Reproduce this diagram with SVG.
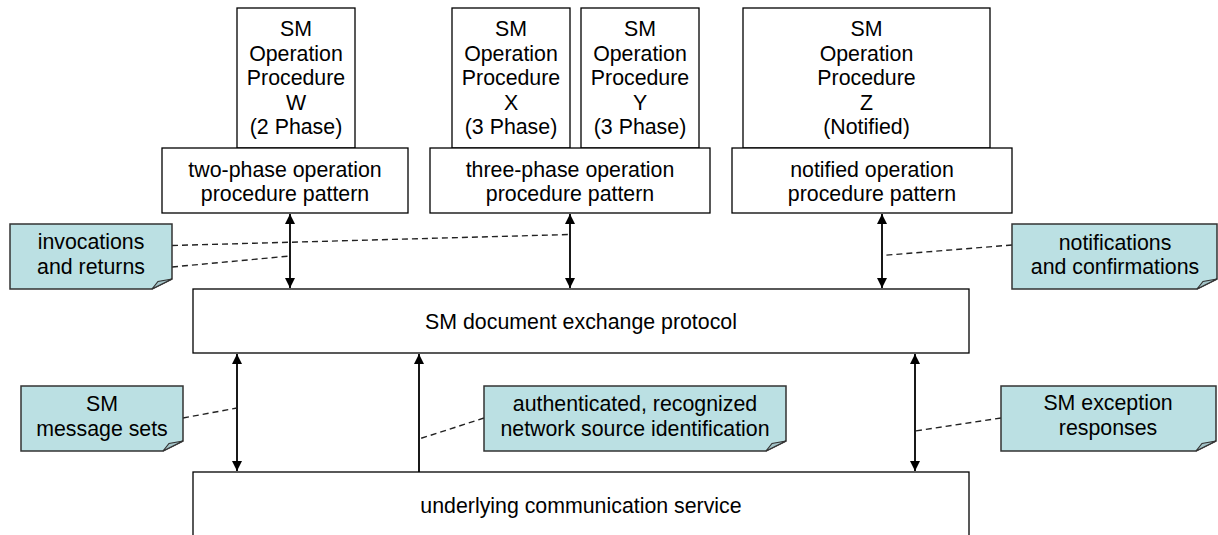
<svg xmlns="http://www.w3.org/2000/svg" width="1218" height="535" viewBox="0 0 1218 535">
<style>
.box{fill:#fff;stroke:#000;stroke-width:1.3}
.note{fill:#bbe0e3;stroke:#333;stroke-width:1.5}
.flap{fill:#a3c4c8;stroke:#333;stroke-width:1.2}
.t{font-family:"Liberation Sans",Arial,sans-serif;font-size:21.33px;fill:#000;text-anchor:middle}
.arr{stroke:#000;stroke-width:1.8;fill:none}
.dash{stroke:#222;stroke-width:1.4;stroke-dasharray:6 4;fill:none}
</style>
<defs>
<marker id="ah" viewBox="0 0 10 10" refX="10" refY="5" markerWidth="12" markerHeight="10" markerUnits="userSpaceOnUse" orient="auto-start-reverse">
<path d="M0,0 L10,5 L0,10 Z" fill="#000"/>
</marker>
</defs>
<rect width="1218" height="535" fill="#fff"/>

<g id="proc-w"><rect class="box" x="237" y="8" width="118" height="140"/>
<text class="t"><tspan x="296" y="36">SM</tspan><tspan x="296" y="60.6">Operation</tspan><tspan x="296" y="85.2">Procedure</tspan><tspan x="296" y="109.8">W</tspan><tspan x="296" y="134.4">(2 Phase)</tspan></text></g>
<g id="proc-x"><rect class="box" x="452" y="8" width="118" height="140"/>
<text class="t"><tspan x="511" y="36">SM</tspan><tspan x="511" y="60.6">Operation</tspan><tspan x="511" y="85.2">Procedure</tspan><tspan x="511" y="109.8">X</tspan><tspan x="511" y="134.4">(3 Phase)</tspan></text></g>
<g id="proc-y"><rect class="box" x="581" y="8" width="118" height="140"/>
<text class="t"><tspan x="640" y="36">SM</tspan><tspan x="640" y="60.6">Operation</tspan><tspan x="640" y="85.2">Procedure</tspan><tspan x="640" y="109.8">Y</tspan><tspan x="640" y="134.4">(3 Phase)</tspan></text></g>
<g id="proc-z"><rect class="box" x="743" y="8" width="247" height="140"/>
<text class="t"><tspan x="866.5" y="36">SM</tspan><tspan x="866.5" y="60.6">Operation</tspan><tspan x="866.5" y="85.2">Procedure</tspan><tspan x="866.5" y="109.8">Z</tspan><tspan x="866.5" y="134.4">(Notified)</tspan></text></g>

<g id="pattern-2"><rect class="box" x="162" y="148" width="246" height="65"/>
<text class="t"><tspan x="285" y="177">two-phase operation</tspan><tspan x="285" y="201">procedure pattern</tspan></text></g>
<g id="pattern-3"><rect class="box" x="430" y="148" width="280" height="65"/>
<text class="t"><tspan x="570" y="177">three-phase operation</tspan><tspan x="570" y="201">procedure pattern</tspan></text></g>
<g id="pattern-n"><rect class="box" x="732" y="148" width="280" height="65"/>
<text class="t"><tspan x="872" y="177">notified operation</tspan><tspan x="872" y="201">procedure pattern</tspan></text></g>

<g id="doc-protocol"><rect class="box" x="193" y="289" width="776" height="64"/>
<text class="t" x="581" y="329">SM document exchange protocol</text></g>
<g id="comm-service"><rect class="box" x="193" y="472" width="776" height="80"/>
<text class="t" x="581" y="513">underlying communication service</text></g>

<g id="connectors">
<line class="arr" x1="290" y1="214" x2="290" y2="288" marker-start="url(#ah)" marker-end="url(#ah)"/>
<line class="arr" x1="570" y1="214" x2="570" y2="288" marker-start="url(#ah)" marker-end="url(#ah)"/>
<line class="arr" x1="882" y1="214" x2="882" y2="288" marker-start="url(#ah)" marker-end="url(#ah)"/>
<line class="arr" x1="237" y1="354" x2="237" y2="471" marker-start="url(#ah)" marker-end="url(#ah)"/>
<line class="arr" x1="419" y1="472" x2="419" y2="354" marker-end="url(#ah)"/>
<line class="arr" x1="915" y1="354" x2="915" y2="471" marker-start="url(#ah)" marker-end="url(#ah)"/>
<line class="dash" x1="172" y1="245.5" x2="570" y2="234.5"/>
<line class="dash" x1="172" y1="267" x2="290" y2="256"/>
<line class="dash" x1="1012" y1="245" x2="882" y2="255.5"/>
<line class="dash" x1="183" y1="418" x2="237" y2="408"/>
<line class="dash" x1="484" y1="418" x2="419" y2="439"/>
<line class="dash" x1="1001" y1="418" x2="915" y2="431"/>
</g>

<g id="note-invocations">
<path class="note" d="M10,224 H172 V279 L152,289 H10 Z"/>
<path class="flap" d="M152,289 L158,281.5 L172,279 Z"/>
<text class="t"><tspan x="91" y="249">invocations</tspan><tspan x="91" y="274">and returns</tspan></text></g>
<g id="note-notifications">
<path class="note" d="M1012,224 H1217 V279 L1197,289 H1012 Z"/>
<path class="flap" d="M1197,289 L1203,281.5 L1217,279 Z"/>
<text class="t"><tspan x="1115" y="250">notifications</tspan><tspan x="1115" y="274">and confirmations</tspan></text></g>
<g id="note-message-sets">
<path class="note" d="M21,386 H183 V441 L163,451 H21 Z"/>
<path class="flap" d="M163,451 L169,443.5 L183,441 Z"/>
<text class="t"><tspan x="102" y="411">SM</tspan><tspan x="102" y="436">message sets</tspan></text></g>
<g id="note-authenticated">
<path class="note" d="M484,386 H786 V441 L766,451 H484 Z"/>
<path class="flap" d="M766,451 L772,443.5 L786,441 Z"/>
<text class="t"><tspan x="635" y="411">authenticated, recognized</tspan><tspan x="635" y="436">network source identification</tspan></text></g>
<g id="note-exception">
<path class="note" d="M1001,386 H1216 V441 L1196,451 H1001 Z"/>
<path class="flap" d="M1196,451 L1202,443.5 L1216,441 Z"/>
<text class="t"><tspan x="1108" y="410">SM exception</tspan><tspan x="1108" y="435">responses</tspan></text></g>
</svg>
